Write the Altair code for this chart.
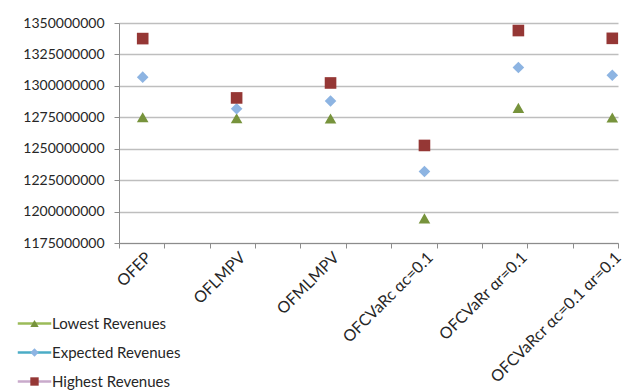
import json

import altair as alt
import numpy as np
import pandas as pd

# Method names shown along the x axis
methods = [
    "OFEP",
    "OFLMPV",
    "OFMLMPV",
    "OFCVaRc αc=0.1",
    "OFCVaRr αr=0.1",
    "OFCVaRcr αc=0.1 αr=0.1",
]

# Revenue outcomes per method
lowest = [1275.0e6, 1274.3e6, 1274.0e6, 1194.6e6, 1282.5e6, 1274.8e6]
expected = [1306.9e6, 1281.8e6, 1288.0e6, 1231.9e6, 1314.6e6, 1308.4e6]
highest = [1337.6e6, 1290.4e6, 1302.3e6, 1252.6e6, 1344.0e6, 1337.8e6]

series_names = ["Lowest Revenues", "Expected Revenues", "Highest Revenues"]
y_ticks = list(range(1175000000, 1350000001, 25000000))

marker_colors = ["#77933C", "#8DB4E2", "#953735"]
line_colors = ["#9BBB59", "#4BACC6", "#C9AACB"]
marker_shapes = ["triangle-up", "diamond", "square"]

rows = []
for name, values in zip(series_names, [lowest, expected, highest]):
    for i, (m, v) in enumerate(zip(methods, values)):
        rows.append({"method": m, "idx": i, "series": name, "value": v})
df = pd.DataFrame(rows)

FONT = "Lato"
TEXT = "#262626"
GRID = "#BEBEBE"
AXIS = "#8C8C8C"

# x positions: category index on a continuous scale
x_lo, x_hi = -0.2523, 5.0607
x_scale = alt.Scale(domain=[x_lo, x_hi], nice=False, zero=False)
tick_positions = [float(t) for t in np.linspace(x_lo, x_hi, 12)]
label_expr = json.dumps(methods, ensure_ascii=False) + "[datum.value]"

y_scale = alt.Scale(domain=[1175e6, 1350e6], nice=False, zero=False)
y_axis = alt.Axis(
    values=y_ticks,
    format="d",
    labelFont=FONT,
    labelFontSize=14,
    labelColor=TEXT,
    labelPadding=10,
    labelOverlap=False,
    labelBound=False,
    labelFlush=False,
    tickSize=5,
    tickColor=AXIS,
    domainColor=AXIS,
    grid=True,
    gridColor=GRID,
    gridWidth=1.3,
    title=None,
)

# the line strokes of the legend use their own keys so the two legends stay apart
line_keys = ["line " + s for s in series_names]

LEGEND_X = -92
LEGEND_Y = 293


def legend_props(**extra):
    base = dict(
        title=None,
        orient="none",
        legendX=LEGEND_X,
        legendY=LEGEND_Y,
        direction="vertical",
        labelFont=FONT,
        labelFontSize=15,
        labelColor=TEXT,
        labelOffset=10,
        symbolSize=70,
        rowPadding=13,
        padding=0,
    )
    base.update(extra)
    return alt.Legend(**base)


marker_legend = legend_props(symbolStrokeWidth=0, zindex=2)

points = (
    alt.Chart(df)
    .mark_point(filled=True, size=135, opacity=1, strokeWidth=0)
    .encode(
        x=alt.X(
            "idx:Q",
            scale=x_scale,
            axis=alt.Axis(
                values=list(range(len(methods))),
                labelExpr=label_expr,
                labelAngle=315,
                labelFont=FONT,
                labelFontSize=16,
                labelColor=TEXT,
                labelPadding=6,
                labelOverlap=False,
                labelBound=False,
                labelFlush=False,
                ticks=False,
                domain=False,
                grid=False,
                title=None,
                orient="bottom",
            ),
        ),
        y=alt.Y("value:Q", scale=y_scale, axis=y_axis),
        shape=alt.Shape(
            "series:N",
            scale=alt.Scale(domain=series_names, range=marker_shapes),
            legend=marker_legend,
        ),
        fill=alt.Fill(
            "series:N",
            scale=alt.Scale(domain=series_names, range=marker_colors),
            legend=marker_legend,
        ),
    )
)

# Axis tick marks plus the line part of the legend entries
line_legend = (
    alt.Chart(df)
    .transform_filter("datum.value < 0")
    .transform_calculate(line_series="'line ' + datum.series")
    .mark_line(strokeWidth=2.5)
    .encode(
        x=alt.X(
            "idx:Q",
            scale=x_scale,
            axis=alt.Axis(
                values=tick_positions,
                labels=False,
                ticks=True,
                tickSize=5,
                tickColor=AXIS,
                domain=True,
                domainColor=AXIS,
                grid=False,
                title=None,
                orient="bottom",
            ),
        ),
        y=alt.Y("value:Q", scale=y_scale, axis=y_axis),
        stroke=alt.Stroke(
            "line_series:N",
            scale=alt.Scale(domain=line_keys, range=line_colors),
            legend=legend_props(
                labelOpacity=0,
                symbolType="M-4,0H4",
                symbolStrokeWidth=2.5,
                symbolFillColor="transparent",
                zindex=1,
            ),
        ),
    )
)

chart = (
    alt.layer(line_legend, points)
    .resolve_axis(x="independent")
    .properties(
        width=499,
        height=220,
        padding={"left": 119, "top": 23, "right": 26, "bottom": 147},
        autosize=alt.AutoSizeParams(type="none"),
        background="white",
    )
    .configure_view(stroke=None)
)

chart.save("out.html", embed_options={"renderer": "svg", "actions": False})
